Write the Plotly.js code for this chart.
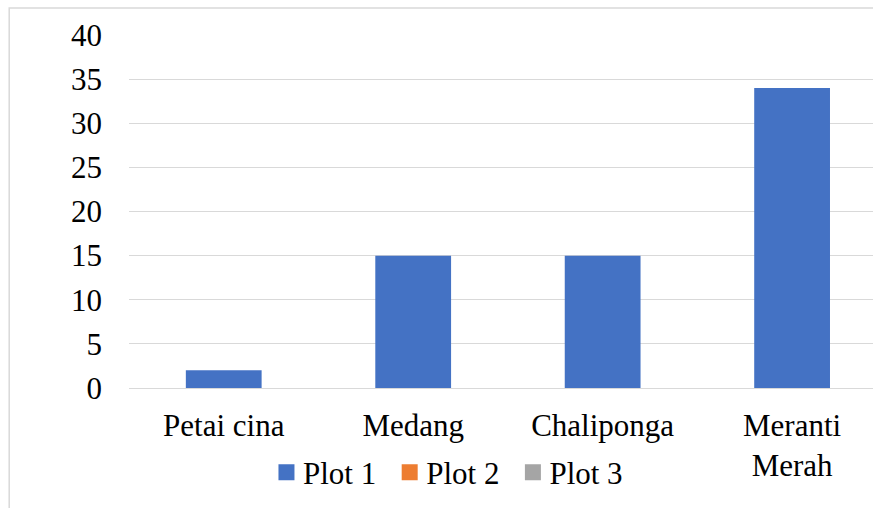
<!DOCTYPE html>
<html>
<head>
<meta charset="utf-8">
<script src="https://cdn.plot.ly/plotly-3.0.1.min.js"></script>
<style>html,body{margin:0;padding:0;background:#fff;}#chart{width:873px;height:508px;}</style>
</head>
<body>
<div id="chart"></div>
<script>
var categories = ["Petai cina", "Medang", "Chaliponga", "Meranti<br>Merah"];
var plot1 = [2, 15, 15, 34];
var plot2 = [null, null, null, null];
var plot3 = [null, null, null, null];
var seriesNames = ["Plot 1", "Plot 2", "Plot 3"];
var yTicks = [0, 5, 10, 15, 20, 25, 30, 35, 40];

var font = {family: "Liberation Serif", size: 31, color: "#000"};
var traces = [
  {type: "bar", name: seriesNames[0], x: categories, y: plot1, width: 0.4, marker: {color: "#4472C4"}},
  {type: "bar", name: seriesNames[1], x: categories, y: plot2, width: 0.4, marker: {color: "#ED7D31"}},
  {type: "bar", name: seriesNames[2], x: categories, y: plot3, width: 0.4, marker: {color: "#A5A5A5"}}
];
var layout = {
  width: 873, height: 508,
  margin: {l: 129, r: 0, t: 35, b: 120},
  paper_bgcolor: "#fff", plot_bgcolor: "#fff",
  font: font,
  barmode: "overlay",
  showlegend: true,
  legend: {orientation: "h", x: 0.422, xanchor: "center", y: -0.24, yanchor: "middle",
           font: font, itemwidth: 35, tracegroupgap: 0},
  xaxis: {type: "category", range: [-0.5, 3.427], showgrid: false, showline: false,
          ticks: "", tickfont: font, ticklabelstandoff: 16, fixedrange: true},
  yaxis: {range: [0, 40], tickvals: yTicks, ticktext: yTicks.map(String), showgrid: true,
          gridcolor: "#d9d9d9", gridwidth: 1, zeroline: true, zerolinecolor: "#d9d9d9",
          zerolinewidth: 1, showline: false, ticks: "", tickfont: font,
          ticklabelstandoff: 26, fixedrange: true},
  shapes: [{type: "rect", xref: "paper", yref: "paper", x0: -0.161, x1: 1.2, y0: -0.5, y1: 1.0765,
            line: {color: "#d9d9d9", width: 1.5}, fillcolor: "rgba(0,0,0,0)", layer: "below"}]
};
function enlargeLegendSymbols() {
  document.querySelectorAll("#chart .legendpoints path").forEach(function (p) {
    p.setAttribute("d", "M14,8H-2V-8H14Z");
  });
}
Plotly.newPlot("chart", traces, layout, {displayModeBar: false, staticPlot: true}).then(function (gd) {
  enlargeLegendSymbols();
  gd.on("plotly_afterplot", enlargeLegendSymbols);
});
</script>
</body>
</html>
